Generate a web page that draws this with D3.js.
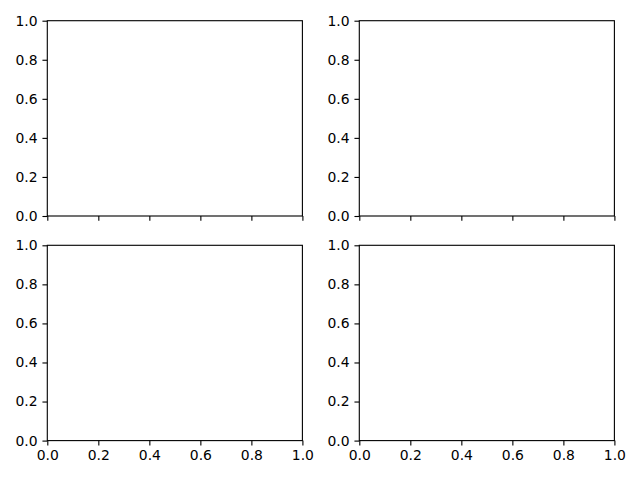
<!DOCTYPE html>
<html><head><meta charset="utf-8">
<script src="https://cdn.jsdelivr.net/npm/d3@7"></script>
<style>body{margin:0;background:#fff}svg{display:block}</style>
</head><body>
<script>
const xTicks = [0, 0.2, 0.4, 0.6, 0.8, 1.0];
const yTicks = [0, 0.2, 0.4, 0.6, 0.8, 1.0];
const xDomain = [0, 1];
const yDomain = [0, 1];
const panels = [
  {row: 0, col: 0, xLabels: false},
  {row: 0, col: 1, xLabels: false},
  {row: 1, col: 0, xLabels: true},
  {row: 1, col: 1, xLabels: true}
];

const W = 640, H = 480;
const colX = [[47.3, 302.4], [359.3, 614.4]];
const rowY = [[20.7, 216.0], [245.3, 440.6]];
const fmt = d3.format(".1f");

const svg = d3.select("body").append("svg").attr("width", W).attr("height", H);

panels.forEach(p => {
  const [x0, x1] = colX[p.col];
  const [y0, y1] = rowY[p.row];
  const x = d3.scaleLinear().domain(xDomain).range([x0, x1]);
  const y = d3.scaleLinear().domain(yDomain).range([y1, y0]);
  const g = svg.append("g");
  const xa = d3.axisBottom(x).tickValues(xTicks).tickSize(4.86).tickPadding(4.86)
    .tickFormat(p.xLabels ? fmt : () => "");
  const ya = d3.axisLeft(y).tickValues(yTicks).tickSize(4.86).tickPadding(4.86).tickFormat(fmt);
  [g.append("g").attr("transform", `translate(0,${y1})`).call(xa),
   g.append("g").attr("transform", `translate(${x0},0)`).call(ya)].forEach(a => {
    a.select(".domain").remove();
    a.selectAll("line").attr("stroke", "#000").attr("stroke-width", 1.11);
    a.selectAll("text").attr("fill", "#000")
      .style("font-family", "DejaVu Sans").style("font-size", "13.9px");
  });
  g.append("rect").attr("x", x0).attr("y", y0).attr("width", x1 - x0).attr("height", y1 - y0)
    .attr("fill", "none").attr("stroke", "#000").attr("stroke-width", 1.11);
});
</script>
</body></html>
